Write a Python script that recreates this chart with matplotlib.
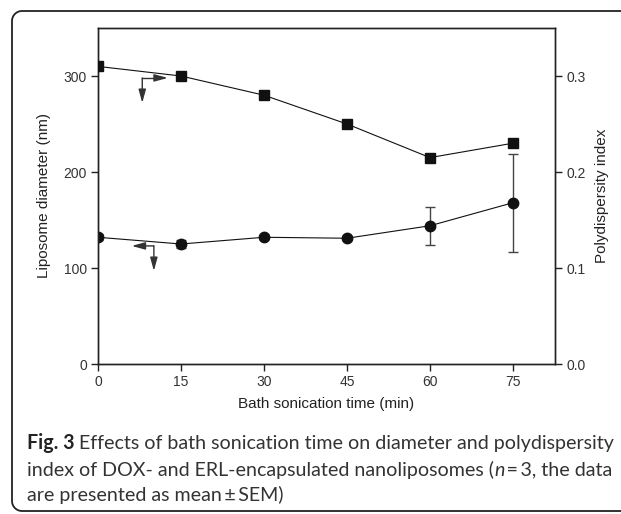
import matplotlib
matplotlib.use("Agg")
import matplotlib.pyplot as plt
from matplotlib.patches import PathPatch
from matplotlib.path import Path
from matplotlib.transforms import IdentityTransform
import numpy as np

# data
time_min = [0, 15, 30, 45, 60, 75]
diameter_nm = [132, 125, 132, 131, 144, 168]
diameter_sem = [3, 4, 2, 2, 20, 51]
pdi = [0.310, 0.300, 0.280, 0.250, 0.215, 0.230]

x_ticks = [0, 15, 30, 45, 60, 75]
left_ticks = [0, 100, 200, 300]
right_ticks = [0.0, 0.1, 0.2, 0.3]

caption_lines = [
    [("Fig. 3", "bold", "normal"), (" Effects of bath sonication time on diameter and polydispersity", "normal", "normal")],
    [("index of DOX- and ERL-encapsulated nanoliposomes (", "normal", "normal"), ("n", "normal", "italic"),
     ("\u2009=\u20093, the data", "normal", "normal")],
    [("are presented as mean\u2009\u00b1\u2009SEM)", "normal", "normal")],
]

W, H = 621, 514
fig = plt.figure(figsize=(W / 100, H / 100), dpi=100)
plt.rcParams["font.family"] = ["Liberation Sans", "DejaVu Sans"]

# outer frame: rounded on the left, running off the right edge
left, top, bottom, r = 12.0, 11.0, 511.0, 10.0
ang = np.linspace(0, np.pi / 2, 12)
pts = [(W + 20, H - top)]
pts += [(left + r - r * np.sin(a), H - top - r + r * np.cos(a)) for a in ang]
pts += [(left + r - r * np.cos(a), H - bottom + r - r * np.sin(a)) for a in ang]
pts += [(W + 20, H - bottom)]
frame = PathPatch(Path(pts), transform=IdentityTransform(), fill=False,
                  edgecolor="#222222", linewidth=1.3)
fig.patches.append(frame)

ax = fig.add_axes([98 / W, 1 - 364 / H, (555 - 98) / W, (364 - 28) / H])
ax2 = ax.twinx()

ax.set_xlim(0, 82.6)
ax.set_ylim(0, 350)
ax2.set_ylim(0, 0.35)

ax.errorbar(time_min, diameter_nm, yerr=diameter_sem, fmt="-o", color="#111111",
            ecolor="#444444", elinewidth=1.0, capsize=3.5, capthick=1.0,
            markersize=7.5, linewidth=0.8, zorder=3)
ax2.plot(time_min, pdi, "-s", color="#111111", markersize=7, linewidth=0.8, zorder=3)

# axis-indicator arrows
arrow_kw = dict(arrowstyle="-|>,head_length=0.8,head_width=0.22", color="#333333",
                linewidth=1.0, shrinkA=0, shrinkB=0)
ax.plot([8.0, 11.0], [298, 298], color="#333333", linewidth=1.0)
ax.annotate("", xy=(12.6, 298), xytext=(10.5, 298), arrowprops=arrow_kw)
ax.annotate("", xy=(8.0, 272), xytext=(8.0, 298), arrowprops=arrow_kw)

ax.annotate("", xy=(6.1, 123), xytext=(10.1, 123), arrowprops=arrow_kw)
ax.annotate("", xy=(10.1, 97), xytext=(10.1, 123), arrowprops=arrow_kw)

ax.set_xticks(x_ticks)
ax.set_yticks(left_ticks)
ax2.set_yticks(right_ticks)
ax2.set_yticklabels([f"{v:.1f}" for v in right_ticks])

for a in (ax, ax2):
    a.tick_params(direction="out", length=5, width=1.0, labelsize=10,
                  colors="#222222", labelcolor="#333333", pad=3)
    for s in a.spines.values():
        s.set_linewidth(1.0)
        s.set_color("#222222")

ax.set_xlabel("Bath sonication time (min)", fontsize=11, color="#222222", labelpad=6)
ax.set_ylabel("Liposome diameter (nm)", fontsize=11, color="#222222", labelpad=9)
ax2.set_ylabel("Polydispersity index", fontsize=11, color="#222222", labelpad=7)

# caption, drawn run by run; font size fitted to the width of the first line
fig.canvas.draw()
renderer = fig.canvas.get_renderer()
cap_family = ["Lato", "DejaVu Sans"]


def draw_line(runs, yy, size, draw=True):
    x = 27.0
    for txt, weight, style in runs:
        t = fig.text(x / W, 1 - yy / H, txt, fontsize=size, family=cap_family,
                     weight=weight, style=style,
                     color="#333333" if weight == "normal" else "#222222",
                     va="center", ha="left")
        x += t.get_window_extent(renderer).width
        if not draw:
            t.remove()
    return x - 27.0


trial = 13.0
width = draw_line(caption_lines[0], 0, trial, draw=False)
cap_size = trial * 585.0 / width
for runs, yy in zip(caption_lines, [443, 470, 495]):
    draw_line(runs, yy, cap_size)

fig.savefig("out.png", dpi=100)
